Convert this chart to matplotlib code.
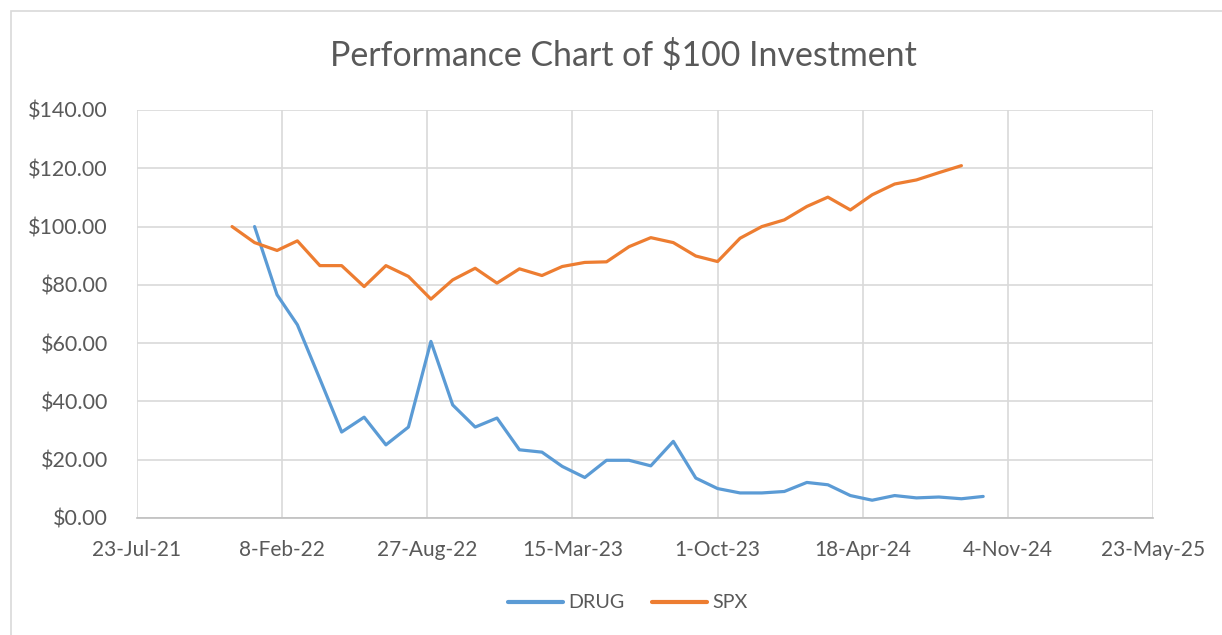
import matplotlib
matplotlib.use("Agg")
import matplotlib.pyplot as plt
import matplotlib.dates as mdates
from matplotlib.ticker import FuncFormatter, FixedLocator
from matplotlib.patches import Rectangle
import pandas as pd
import datetime as dt

# ---- data ----
spx_dates = pd.date_range("2021-12-01", periods=34, freq="MS")
spx_values = [100.0, 94.5, 91.8, 95.1, 86.6, 86.6, 79.4, 86.6, 82.9, 75.1,
              81.7, 85.7, 80.6, 85.5, 83.2, 86.3, 87.7, 87.9, 93.1, 96.2,
              94.5, 89.9, 88.0, 96.0, 100.0, 102.3, 106.9, 110.1, 105.7, 110.9,
              114.6, 116.0, 118.5, 120.9]

drug_dates = pd.date_range("2022-01-01", periods=34, freq="MS")
drug_values = [100.0, 76.6, 66.3, 47.7, 29.5, 34.6, 25.1, 31.2, 60.6, 38.8,
               31.2, 34.3, 23.4, 22.6, 17.7, 13.9, 19.8, 19.8, 17.9, 26.3,
               13.7, 10.1, 8.6, 8.6, 9.1, 12.2, 11.4, 7.7, 6.1, 7.7,
               6.9, 7.2, 6.6, 7.4]

x_tick_labels = ["23-Jul-21", "8-Feb-22", "27-Aug-22", "15-Mar-23",
                 "1-Oct-23", "18-Apr-24", "4-Nov-24", "23-May-25"]
y_ticks = [0, 20, 40, 60, 80, 100, 120, 140]

title = "Performance Chart of $100 Investment"

# ---- style ----
FONT = "Lato"
TXT = "#595959"
GRID = "#d9d9d9"
BLUE = "#5B9BD5"
ORANGE = "#ED7D31"

W, H = 1222, 635
fig = plt.figure(figsize=(W / 100, H / 100), dpi=100)
fig.patch.set_facecolor("white")

# chart border (Excel chart area)
fig.patches.append(Rectangle((11 / W, -0.05), 1.2, 1 - 11 / H + 0.05,
                             transform=fig.transFigure, fill=False,
                             edgecolor="#d9d9d9", linewidth=1.2))

ax = fig.add_axes([137 / W, 1 - 518 / H, (1153 - 137) / W, (518 - 110) / H])

ax.plot(drug_dates, drug_values, color=BLUE, linewidth=2.3, label="DRUG",
        solid_capstyle="round", solid_joinstyle="round")
ax.plot(spx_dates, spx_values, color=ORANGE, linewidth=2.3, label="SPX",
        solid_capstyle="round", solid_joinstyle="round")

tick_dates = [dt.datetime.strptime(s, "%d-%b-%y") for s in x_tick_labels]
tick_nums = mdates.date2num(tick_dates)
ax.set_xlim(tick_nums[0], tick_nums[-1])
ax.xaxis.set_major_locator(FixedLocator(tick_nums))
ax.set_xticklabels(x_tick_labels)
ax.set_ylim(0, 140)
ax.set_yticks(y_ticks)
ax.yaxis.set_major_formatter(FuncFormatter(lambda v, p: f"${v:,.2f}"))

ax.grid(True, color=GRID, linewidth=1.2)
ax.set_axisbelow(True)
for s in ["top", "right", "left"]:
    ax.spines[s].set_visible(False)
ax.spines["bottom"].set_color("#bfbfbf")
ax.spines["bottom"].set_linewidth(1.2)
ax.tick_params(length=0, labelcolor=TXT)
ax.tick_params(axis="x", pad=16, labelsize=15)
ax.tick_params(axis="y", pad=21, labelsize=15.5)
for lab in ax.get_xticklabels() + ax.get_yticklabels():
    lab.set_fontfamily(FONT)

fig.text(623 / W, 1 - 56 / H, title, ha="center", va="center",
         fontsize=24.4, color=TXT, fontfamily=FONT, fontweight="normal")

leg = fig.legend(loc="center", bbox_to_anchor=(628 / W, 1 - 603 / H), ncol=2,
                 frameon=False, prop={"family": FONT, "size": 14.2},
                 handlelength=2.8, columnspacing=1.4, handletextpad=0.25)
for t in leg.get_texts():
    t.set_color(TXT)
for h in leg.get_lines():
    h.set_linewidth(3.0)

fig.savefig("out.png", dpi=100, facecolor="white")
